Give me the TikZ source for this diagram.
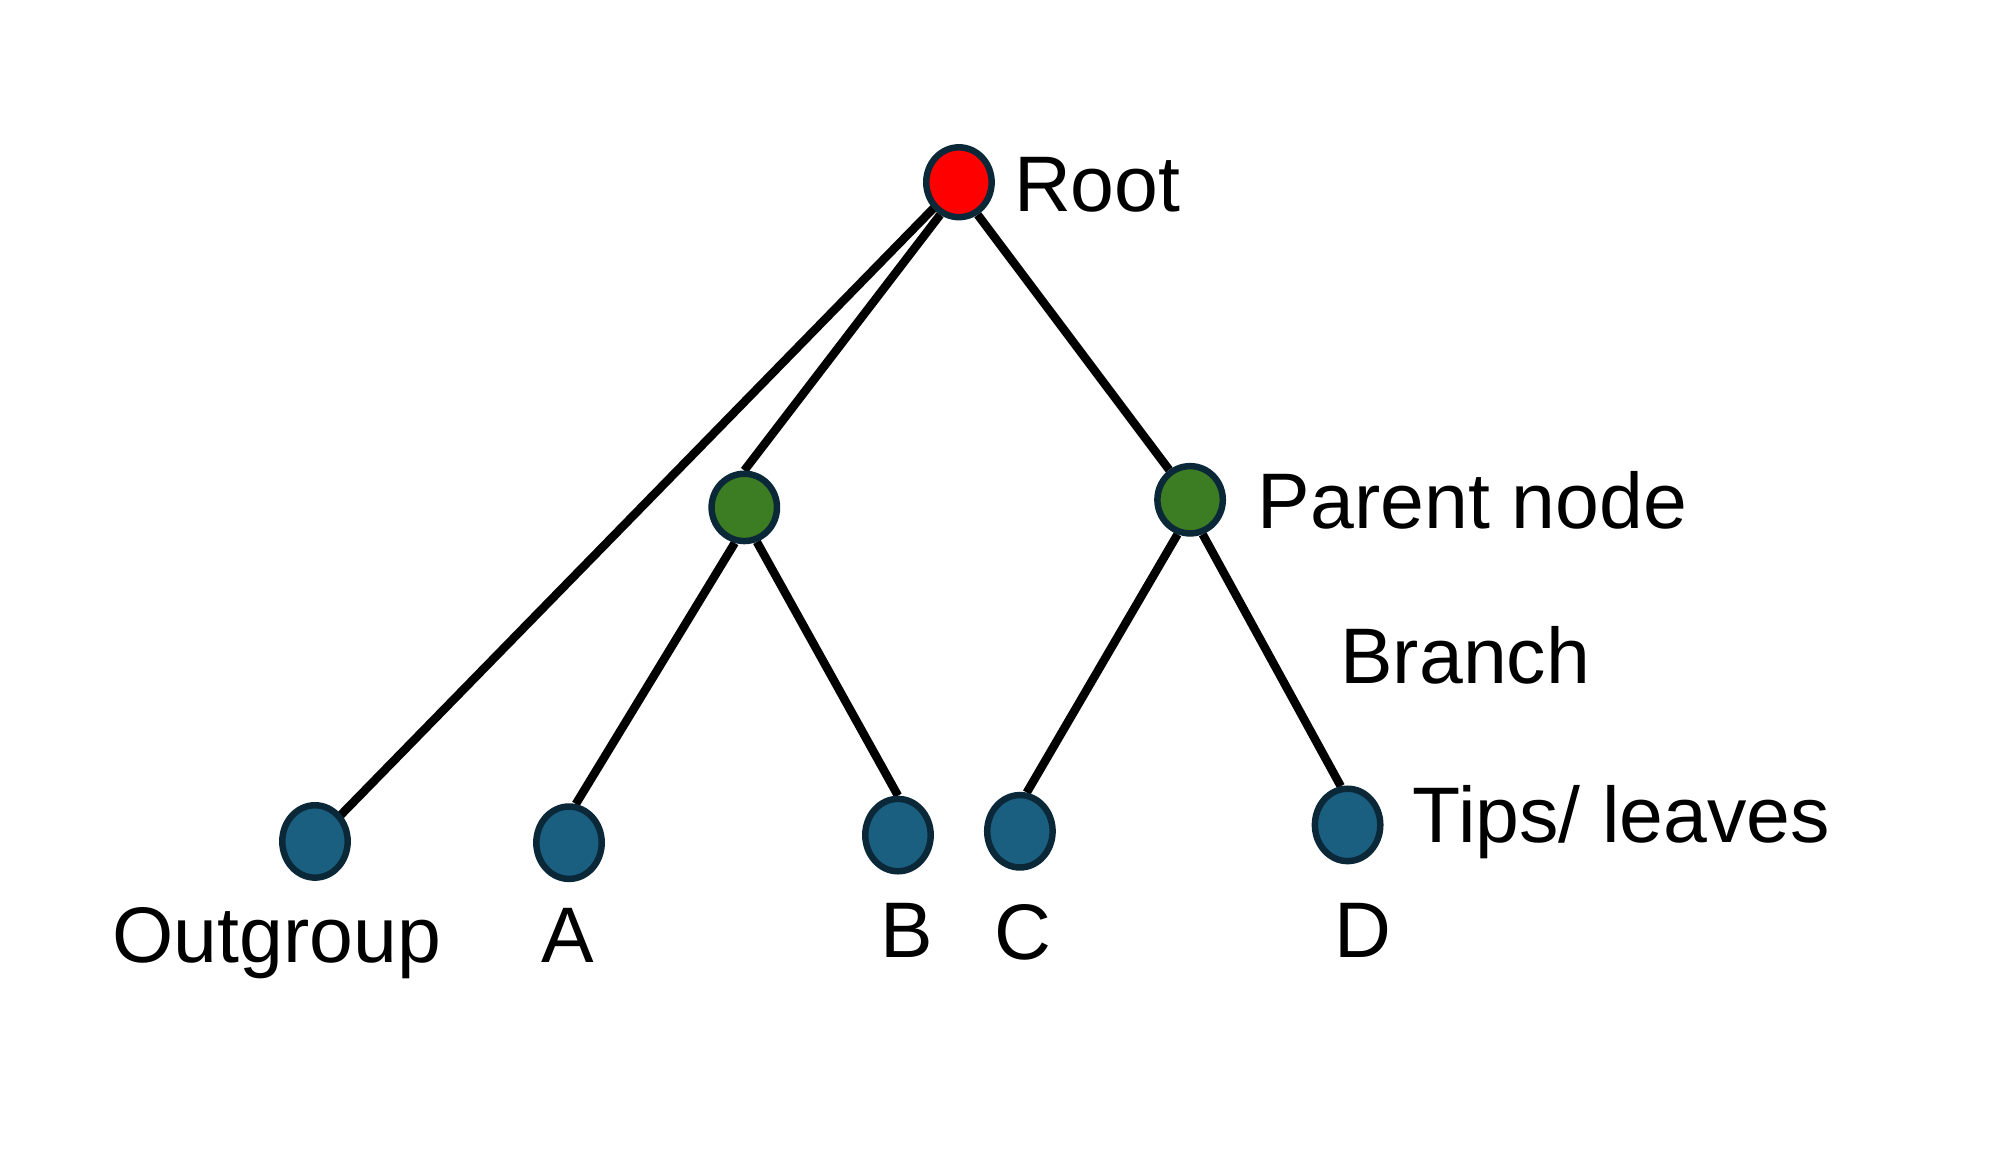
\documentclass[tikz,border=0pt]{standalone}
\usepackage{fontspec}
\setmainfont{Liberation Sans}
\usetikzlibrary{shapes.geometric,backgrounds}

\definecolor{rootred}{HTML}{FF0000}
\definecolor{parentgreen}{HTML}{3C7D23}
\definecolor{tipblue}{HTML}{1A5F80}
\definecolor{rim}{HTML}{0B2838}

\begin{document}
\begin{tikzpicture}
  [dot/.style={ellipse,draw=rim,line width=2.9pt,inner sep=0pt,minimum width=1.03cm,minimum height=1.1cm},
   rootdot/.style={dot,fill=rootred},
   parentdot/.style={dot,fill=parentgreen,minimum height=1.06cm},
   tipdot/.style={dot,fill=tipblue,minimum height=1.14cm},
   lbl/.style={inner sep=0pt,font=\fontsize{35.3}{42}\selectfont},
   branch/.style={line width=3.8pt,black}]
  \useasboundingbox (0,-0.1) rectangle (31.32,18.01);

  \node[rootdot] (root) at (15.10,15.14) {};
  \node[parentdot] (pl) at (11.72,10.02) {};
  \node[parentdot] (pr) at (18.74,10.14) {};
  \node[tipdot] (og) at (4.96,4.76) {};
  \node[tipdot] (a) at (8.96,4.74) {};
  \node[tipdot] (b) at (14.14,4.86) {};
  \node[tipdot] (c) at (16.06,4.92) {};
  \node[tipdot] (d) at (21.22,5.02) {};

  \begin{pgfonlayer}{background}
    \draw[branch] (root.center) -- (og.center);
    \draw[branch] (root.240) -- (pl.north);
    \draw[branch] (root.300) -- (pr.125);

    \draw[branch] (pl.255) -- (a.80);
    \draw[branch] (pl.290) -- (b.north);
    \draw[branch] (pr.250) -- (c.80);
    \draw[branch] (pr.290) -- (d.100);
  \end{pgfonlayer}

  \node[lbl,anchor=base west] (lroot) at (15.96,14.68) {Root};
  \node[lbl,anchor=base west] (lparent) at (19.80,9.68) {Parent node};
  \node[lbl,anchor=base west] (lbranch) at (21.10,7.24) {Branch};
  \node[lbl,anchor=base west] (ltips) at (22.24,4.74) {Tips/ leaves};
  \node[lbl,anchor=base] (log) at (4.36,2.86) {Outgroup};
  \node[lbl,anchor=base] (la) at (8.94,2.86) {A};
  \node[lbl,anchor=base] (lb) at (14.28,2.94) {B};
  \node[lbl,anchor=base] (lc) at (16.10,2.90) {C};
  \node[lbl,anchor=base] (ld) at (21.46,2.94) {D};
\end{tikzpicture}
\end{document}
